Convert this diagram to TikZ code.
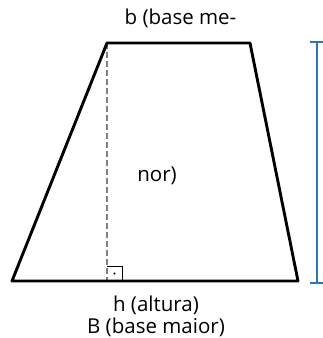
\documentclass[tikz,border=0pt]{standalone}
\usepackage{fontspec}
\setmainfont{Open Sans}
\usetikzlibrary{positioning}
\definecolor{dimblue}{RGB}{46,117,182}
\begin{document}
\begin{tikzpicture}[x=1pt, y=-1pt, every node/.style={font=\fontsize{20.5}{24}\selectfont, inner sep=0pt, anchor=base}]
\tikzstyle{edge}=[line width=2.9pt, line join=round]
\tikzstyle{hgt}=[gray, line width=1.7pt, dash pattern=on 6pt off 3pt]
\tikzstyle{dim}=[dimblue, line width=1.4pt]
\useasboundingbox (0,0) rectangle (322,338);
% vertices of the trapezoid
\coordinate (tl) at (107,43);
\coordinate (tr) at (250,43);
\coordinate (br) at (298,281);
\coordinate (bl) at (12,281);
\coordinate (foot) at (107,281);
\draw[hgt] (tl) -- (foot);
\draw[line width=1pt] (foot) ++(0,-15) -| ++(15,15);
\fill ([shift={(7.5,-7.5)}]foot) circle (1.2pt);
\draw[edge] (tl) -- (tr) -- (br) -- (bl) -- cycle;
% height marker
\coordinate (dtop) at (317,42);
\coordinate (dbot) at (317,283);
\draw[dim] (dtop) -- (dbot);
\draw[dim] ([xshift=-7pt]dtop) -- ([xshift=6pt]dtop);
\draw[dim] ([xshift=-7pt]dbot) -- ([xshift=6pt]dbot);
% labels
\node (lb) at (180.5,24.5) {b (base me-};
\node (lnor) at (157,181) {nor)};
\node (lh) at (156,311) {h (altura)};
\node (lB) at (156,333) {B (base maior)};
\end{tikzpicture}
\end{document}
